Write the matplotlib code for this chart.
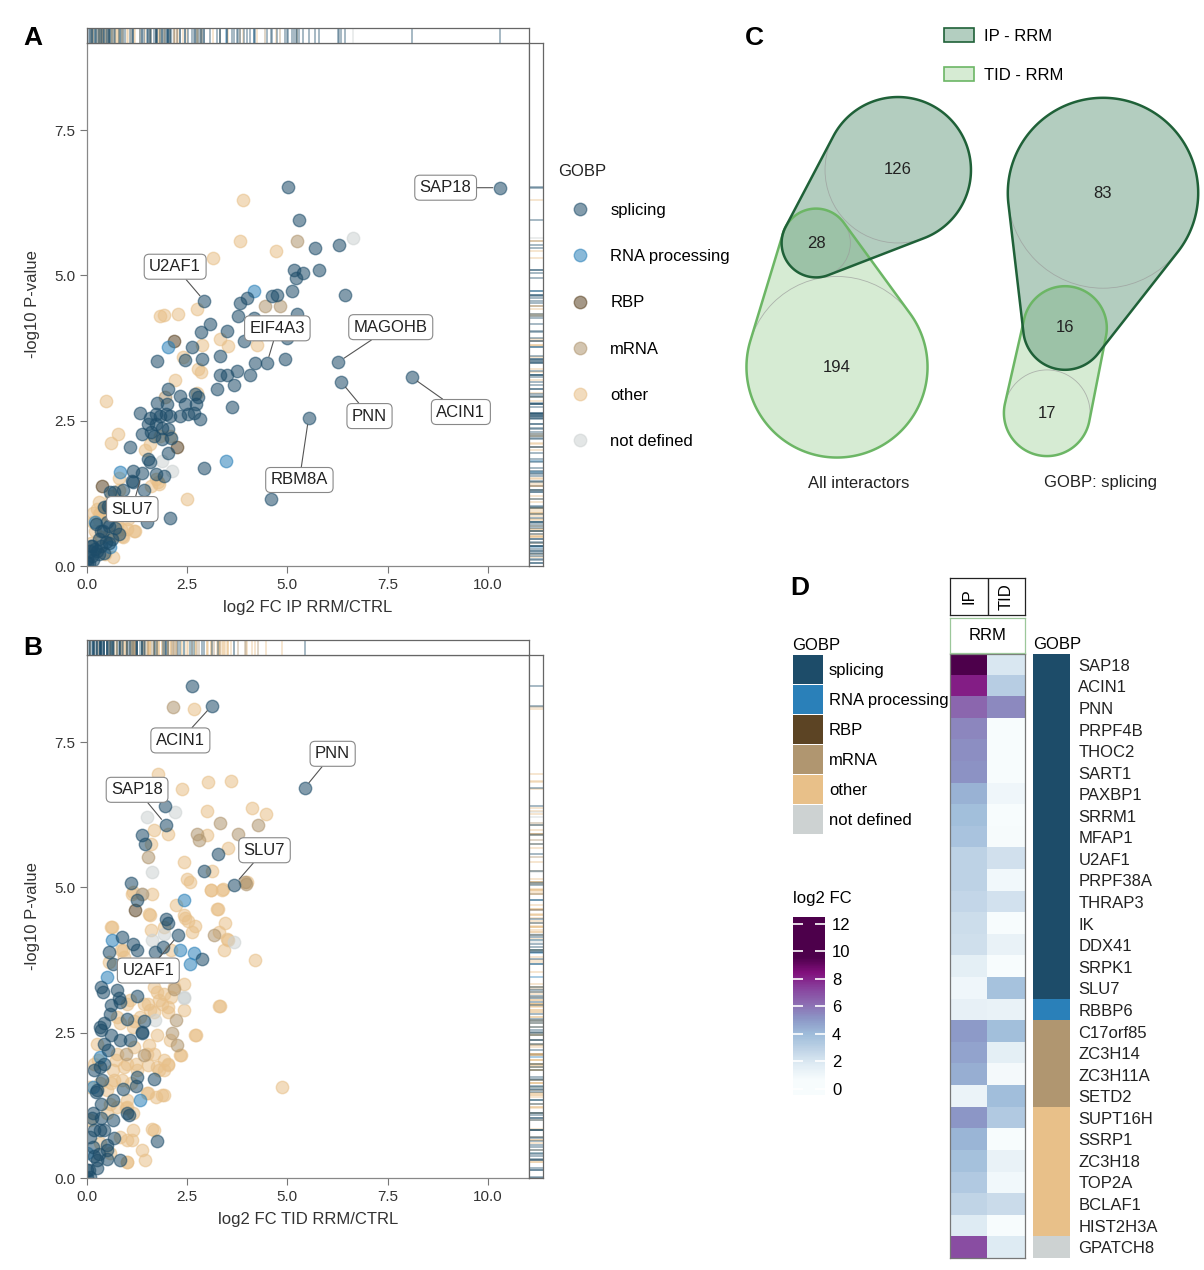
import matplotlib
matplotlib.use("Agg")
import matplotlib.pyplot as plt
import numpy as np
from matplotlib.colors import ListedColormap, Normalize
from matplotlib.lines import Line2D
from matplotlib.patches import Patch, Polygon, Circle
from matplotlib.cm import ScalarMappable

plt.rcParams['font.family'] = ['Liberation Sans', 'DejaVu Sans']

W, H = 1204, 1270

# GOBP categories and colours
categories = ['splicing', 'RNA processing', 'RBP', 'mRNA', 'other', 'not defined']
cat_colors = ['#1d4c69', '#2a80b9', '#5c4424', '#b09670', '#e8c089', '#cdd2d2']

# ---- panel A: log2 FC IP RRM/CTRL vs -log10 p ----
a_splicing = [
    (5.02, 6.53), (5.30, 5.96), (5.70, 5.47), (6.30, 5.52), (5.16, 5.10), (5.39, 5.05), (5.79, 5.09),
    (5.22, 4.96), (6.43, 4.66), (5.12, 4.73), (4.62, 4.64), (4.74, 4.67), (3.83, 4.52), (3.99, 4.62),
    (3.78, 4.30), (4.16, 4.27), (5.24, 4.33), (2.93, 4.56), (3.08, 4.16), (2.84, 4.02), (3.49, 4.04),
    (3.91, 3.87), (4.99, 3.93), (2.62, 3.77), (2.87, 3.56), (3.33, 3.61), (1.74, 3.53), (2.45, 3.54),
    (3.33, 3.28), (3.24, 3.04), (3.49, 3.28), (3.74, 3.36), (3.68, 3.12), (4.06, 3.28), (4.20, 3.50),
    (4.49, 3.49), (4.93, 3.56), (2.02, 3.04), (2.31, 2.93), (2.70, 2.96), (2.78, 2.90), (1.74, 2.81),
    (1.99, 2.78), (2.45, 2.78), (2.72, 2.78), (1.33, 2.64), (1.58, 2.55), (1.83, 2.58), (2.08, 2.58),
    (2.33, 2.58), (2.66, 2.64), (2.83, 2.53), (3.62, 2.74), (1.37, 2.27), (1.53, 2.44), (1.87, 2.38),
    (2.03, 2.35), (1.66, 2.24), (1.87, 2.19), (1.08, 2.04), (1.53, 1.84), (2.03, 1.94), (1.58, 1.79),
    (2.91, 1.68), (1.16, 1.64), (1.37, 1.60), (1.73, 1.58), (1.91, 1.55), (0.58, 1.27), (0.91, 1.30),
    (1.41, 1.30), (1.16, 1.44), (0.53, 1.04), (2.06, 0.82), (1.49, 0.75), (5.53, 2.55), (4.59, 1.15),
    (6.27, 3.51), (6.34, 3.17), (8.10, 3.25), (10.30, 6.51),
    (1.72, 2.61), (1.97, 2.61), (2.51, 2.61), (1.72, 2.44), (1.59, 2.30), (2.09, 2.21), (1.13, 1.47),
    (0.43, 1.01), (0.68, 1.27), (0.22, 0.72), (0.34, 0.61), (0.55, 0.69), (0.30, 0.46), (0.47, 0.41),
    (0.63, 0.46), (0.09, 0.35), (0.26, 0.26), (0.43, 0.23), (0.13, 0.18), (0.01, 0.06), (0.00, 0.12),
    (0.05, 0.05), (0.15, 0.10), (0.20, 0.30), (0.35, 0.35), (0.40, 0.60), (0.50, 0.75), (0.55, 0.40),
    (0.70, 0.65), (0.80, 0.55), (0.85, 0.90), (0.95, 1.00), (0.12, 0.35), (0.30, 0.20), (0.08, 0.25)]
a_rna = [(4.16, 4.73), (2.03, 3.77), (3.47, 1.81), (0.83, 1.61), (0.20, 0.75), (0.58, 0.32)]
a_rbp = [(2.16, 3.87), (2.24, 2.04), (0.37, 1.38)]
a_mrna = [(5.24, 5.59), (4.45, 4.47), (4.81, 4.48), (1.95, 2.90), (0.55, 1.00)]
a_other = [
    (3.89, 6.29), (3.83, 5.60), (4.72, 5.42), (3.14, 5.30), (2.74, 4.42), (1.83, 4.30), (1.91, 4.32),
    (2.26, 4.33), (0.47, 2.84), (0.77, 2.27), (0.59, 2.11), (1.58, 2.10), (2.49, 1.16), (2.87, 3.80),
    (2.77, 3.39), (2.85, 3.33), (4.24, 3.81), (3.33, 3.90), (3.53, 3.79), (2.74, 2.98), (1.83, 2.24),
    (2.08, 2.24), (1.78, 1.44), (1.03, 0.81), (0.33, 0.92), (0.74, 0.69), (0.16, 0.92), (1.33, 0.92),
    (0.10, 0.40), (0.20, 0.60), (0.30, 0.80), (0.40, 1.00), (0.50, 0.90), (0.60, 1.20), (0.30, 1.10),
    (0.70, 0.95), (0.80, 1.30), (0.45, 0.20), (0.65, 0.15), (0.90, 0.50), (1.20, 0.60), (0.15, 0.75),
    (0.55, 0.55), (1.10, 1.00), (0.35, 0.50), (2.40, 3.60), (2.20, 3.20), (1.45, 2.00),
    (0.80, 1.52), (1.59, 1.38), (1.72, 1.49), (1.80, 1.41), (0.26, 0.98), (0.30, 0.89), (0.72, 0.86),
    (0.84, 0.64), (1.01, 0.63), (1.18, 0.61), (0.63, 0.52), (0.88, 0.52)]
a_nd = [(6.64, 5.64), (1.87, 1.81), (2.12, 1.64)]

a_labels = ['SAP18', 'U2AF1', 'EIF4A3', 'MAGOHB', 'PNN', 'ACIN1', 'RBM8A', 'SLU7']
a_label_pts = [(10.30, 6.51), (2.93, 4.56), (4.49, 3.49), (6.27, 3.51), (6.34, 3.17), (8.10, 3.25),
               (5.53, 2.55), (1.37, 1.60)]
a_label_txt = [(8.95, 6.51), (2.20, 5.15), (4.75, 4.09), (7.58, 4.11), (7.05, 2.58), (9.33, 2.65),
               (5.30, 1.48), (1.13, 0.98)]

# ---- panel B: log2 FC TID RRM/CTRL vs -log10 p ----
b_splicing = [
    (2.62, 8.47), (3.12, 8.13), (1.95, 6.41), (1.97, 6.08), (1.37, 5.91), (1.45, 5.74), (3.28, 5.58),
    (2.92, 5.28), (3.68, 5.05), (1.10, 5.08), (1.26, 4.79), (1.98, 4.46), (2.01, 4.38), (2.28, 4.18),
    (1.16, 4.02), (1.24, 3.92), (0.87, 4.15), (1.70, 3.89), (2.87, 3.77), (0.66, 3.69), (0.41, 3.20),
    (0.74, 3.23), (1.24, 3.14), (0.83, 3.03), (0.58, 2.83), (0.33, 2.60), (1.41, 2.71), (1.37, 2.51),
    (0.83, 2.37), (1.08, 2.37), (0.53, 2.20), (0.33, 1.91), (1.24, 1.74), (0.91, 1.54), (1.66, 1.71),
    (0.24, 1.51), (0.66, 1.34), (0.99, 1.11), (0.16, 1.11), (0.66, 1.00), (0.33, 0.83), (0.08, 0.71),
    (0.16, 0.54), (0.49, 0.48), (1.74, 0.63), (0.83, 0.31), (0.24, 0.31), (0.00, 0.14), (0.08, 0.02),
    (0.00, 0.00), (5.43, 6.71),
    (1.90, 3.97), (0.55, 3.89), (0.34, 3.29), (0.80, 3.09), (0.59, 2.97), (1.01, 2.74), (0.43, 2.66),
    (0.34, 2.54), (0.59, 2.46), (1.38, 2.49), (0.43, 2.31), (0.43, 1.97), (0.18, 1.86), (0.38, 1.68),
    (1.22, 1.58), (0.22, 1.48), (0.34, 1.28), (0.13, 1.03), (0.34, 1.03), (1.05, 1.08), (0.18, 0.82),
    (0.43, 0.82), (0.68, 0.68), (0.51, 0.57), (0.51, 0.32), (0.30, 0.42), (0.18, 0.37), (0.05, 0.14),
    (0.26, 0.17)]
b_rna = [(2.41, 4.79), (0.62, 4.10), (0.49, 3.46), (2.66, 3.87), (2.58, 3.69), (1.33, 1.34), (0.33, 2.09),
         (0.00, 0.43), (0.16, 1.57), (2.33, 3.92)]
b_rbp = [(1.20, 4.62)]
b_mrna = [(2.14, 8.10), (3.33, 6.11), (2.74, 5.92), (2.80, 5.81), (3.78, 5.92), (4.27, 6.07), (3.95, 5.10),
          (1.52, 5.52), (1.37, 4.89), (3.16, 4.18), (2.12, 2.49), (2.24, 2.29), (2.23, 2.72), (3.97, 5.06),
          (2.18, 3.26), (0.97, 2.14), (1.43, 2.11)]
b_other = [
    (2.66, 8.07), (1.78, 6.95), (2.37, 6.70), (3.03, 6.81), (3.59, 6.84), (2.99, 6.32), (4.13, 6.37),
    (4.47, 6.26), (1.68, 5.98), (2.03, 5.92), (1.59, 5.75), (2.99, 5.91), (3.53, 5.68), (2.43, 5.44),
    (3.12, 5.29), (2.49, 5.15), (2.58, 5.09), (3.99, 5.10), (3.09, 4.96), (3.39, 4.98), (1.16, 4.92),
    (2.22, 4.69), (3.24, 4.63), (1.58, 4.53), (2.45, 4.48), (2.70, 4.33), (3.45, 4.39), (0.62, 4.32),
    (1.91, 4.32), (3.49, 4.12), (3.41, 3.92), (4.20, 3.75), (0.91, 3.92), (1.53, 3.55),
    (2.16, 3.29), (1.74, 3.20), (1.08, 3.06), (1.41, 3.00), (1.58, 2.89), (1.87, 3.00), (2.41, 2.89),
    (2.03, 2.86), (1.33, 2.77), (1.16, 2.60), (1.74, 2.46), (2.08, 2.37), (2.33, 2.11), (2.70, 2.46),
    (3.33, 2.96), (4.87, 1.57), (1.49, 2.14), (0.99, 1.97), (0.66, 1.86), (1.91, 1.86), (0.33, 1.63),
    (1.49, 1.46), (1.87, 1.43), (0.99, 1.34), (0.58, 1.28), (1.16, 1.11), (1.66, 0.83), (1.37, 0.48),
    (0.99, 0.28), (0.33, 0.60), (0.58, 0.43), (0.08, 1.00), (0.08, 1.57), (1.74, 1.91), (0.28, 2.03),
    (0.83, 2.66), (0.74, 2.14), (1.24, 1.86), (2.03, 1.97), (0.83, 0.71), (0.49, 1.11), (1.16, 0.83),
    (1.13, 4.89), (1.63, 4.88), (1.55, 4.55), (2.42, 4.52), (2.51, 4.43), (1.59, 4.26), (2.63, 4.23),
    (3.09, 4.95), (3.38, 4.95), (3.26, 4.63), (3.30, 4.23), (3.51, 4.09), (0.59, 4.32), (0.84, 3.92),
    (0.93, 3.80), (2.09, 3.92), (0.55, 3.72), (1.68, 3.29), (1.93, 3.17), (1.80, 3.06), (2.09, 3.12),
    (2.42, 3.34), (1.01, 3.00), (1.51, 3.00), (1.68, 2.86), (2.01, 2.94), (3.30, 2.96), (0.76, 2.77),
    (1.18, 2.71), (2.72, 2.46), (2.34, 2.11), (0.26, 2.31), (0.18, 1.97), (1.18, 2.26), (1.55, 2.29),
    (1.68, 2.14), (1.93, 2.03), (2.01, 1.94), (0.72, 2.03), (0.93, 1.91), (1.22, 1.97), (1.51, 1.94),
    (1.80, 1.86), (0.68, 1.68), (0.88, 1.68), (1.09, 1.63), (1.51, 1.46), (1.72, 1.40), (1.93, 1.43),
    (1.01, 1.23), (1.63, 0.85), (1.01, 0.65), (1.13, 0.65), (1.01, 0.28), (1.45, 0.31), (0.76, 1.23),
    (0.97, 1.20), (0.51, 1.51), (0.59, 1.63)]
b_nd = [(1.49, 6.21), (2.20, 6.30), (1.62, 5.26), (3.66, 4.06), (1.62, 4.09), (2.41, 3.09), (1.70, 2.72),
        (1.91, 4.20), (1.38, 4.89), (2.42, 3.12)]

b_labels = ['ACIN1', 'PNN', 'SAP18', 'SLU7', 'U2AF1']
b_label_pts = [(3.12, 8.13), (5.43, 6.71), (1.97, 6.08), (3.68, 5.05), (2.28, 4.18)]
b_label_txt = [(2.33, 7.53), (6.13, 7.30), (1.25, 6.68), (4.43, 5.64), (1.53, 3.57)]

# ---- panel C: overlap counts (IP only, shared, TID only) ----
all_counts = [126, 28, 194]
splicing_counts = [83, 16, 17]

# ---- panel D: log2 FC heatmap ----
genes = ['SAP18', 'ACIN1', 'PNN', 'PRPF4B', 'THOC2', 'SART1', 'PAXBP1', 'SRRM1', 'MFAP1', 'U2AF1',
         'PRPF38A', 'THRAP3', 'IK', 'DDX41', 'SRPK1', 'SLU7', 'RBBP6', 'C17orf85', 'ZC3H14', 'ZC3H11A',
         'SETD2', 'SUPT16H', 'SSRP1', 'ZC3H18', 'TOP2A', 'BCLAF1', 'HIST2H3A', 'GPATCH8']
fc_ip = [10.3, 8.1, 6.35, 5.5, 5.3, 5.2, 4.3, 3.8, 3.6, 2.93, 2.9, 2.7, 2.4, 2.3, 1.5, 1.0, 1.4,
         5.0, 4.7, 4.4, 1.2, 5.1, 4.2, 3.7, 3.3, 2.8, 1.8, 7.0]
fc_tid = [1.97, 3.12, 5.43, 0.3, 0.5, 0.6, 1.0, 0.3, 0.7, 2.28, 0.9, 2.2, 0.3, 1.3, 0.2, 3.68, 1.3,
          3.8, 1.5, 0.8, 3.9, 3.3, 0.5, 1.3, 0.9, 2.5, 0.4, 1.8]
gene_gobp = ['splicing'] * 16 + ['RNA processing'] + ['mRNA'] * 4 + ['other'] * 6 + ['not defined']

fig = plt.figure(figsize=(W / 100, H / 100), dpi=100)


def fax(x0, y0, x1, y1):
    # axes from pixel box (top-left origin)
    return fig.add_axes([x0 / W, 1 - y1 / H, (x1 - x0) / W, (y1 - y0) / H])


def style_box(ax, color='#888888'):
    for s in ax.spines.values():
        s.set_color(color)
        s.set_linewidth(0.9)


def volcano(y_top, series, labels, label_pts, label_txt, xlabel):
    ax = fax(87, y_top + 15, 529, y_top + 538)
    top = fax(87, y_top, 529, y_top + 15)
    right = fax(529, y_top + 15, 543, y_top + 538)
    order = [4, 5, 3, 2, 1, 0]
    for i in order:
        pts = np.array(series[i])
        c = cat_colors[i]
        ax.scatter(pts[:, 0], pts[:, 1], s=80, color=c, alpha=0.55, edgecolors=c, linewidths=1.0, zorder=2)
        top.vlines(pts[:, 0], 0, 1, color=c, alpha=0.5, lw=1.1)
        right.hlines(pts[:, 1], 0, 1, color=c, alpha=0.5, lw=1.1)
    for name, p, t in zip(labels, label_pts, label_txt):
        ax.annotate(name, xy=p, xytext=t, ha='center', va='center', fontsize=12, color='#222222', zorder=5,
                    bbox=dict(boxstyle='round,pad=0.3', fc='white', ec='#888888', lw=0.8),
                    arrowprops=dict(arrowstyle='-', color='#555555', lw=0.8, shrinkA=0, shrinkB=5))
    ax.set_xlim(0, 11.03)
    ax.set_ylim(0, 9)
    ax.set_xticks([0, 2.5, 5, 7.5, 10])
    ax.set_xticklabels(['0.0', '2.5', '5.0', '7.5', '10.0'])
    ax.set_yticks([0, 2.5, 5, 7.5])
    ax.set_yticklabels(['0.0', '2.5', '5.0', '7.5'])
    ax.tick_params(labelsize=11, colors='#333333', length=5, width=0.8)
    ax.tick_params(axis='both', color='#777777')
    ax.set_xlabel(xlabel, fontsize=12, color='#333333', labelpad=6)
    ax.set_ylabel('-log10 P-value', fontsize=12, color='#333333', labelpad=10)
    style_box(ax)
    top.set_xlim(0, 11.03)
    top.set_ylim(0, 1)
    right.set_ylim(0, 9)
    right.set_xlim(0, 1)
    for r in (top, right):
        r.set_xticks([])
        r.set_yticks([])
        style_box(r, '#666666')


volcano(28, [a_splicing, a_rna, a_rbp, a_mrna, a_other, a_nd], a_labels, a_label_pts, a_label_txt,
        'log2 FC IP RRM/CTRL')
volcano(640, [b_splicing, b_rna, b_rbp, b_mrna, b_other, b_nd], b_labels, b_label_pts, b_label_txt,
        'log2 FC TID RRM/CTRL')

fig.text(558 / W, 1 - 171 / H, 'GOBP', fontsize=12, ha='left', va='center', color='#222222')
handles = [Line2D([], [], marker='o', ls='', ms=9, mfc=c, mec=c, alpha=0.55, label=l)
           for c, l in zip(cat_colors, categories)]
fig.legend(handles=handles, frameon=False, fontsize=12, handlelength=2.9, handletextpad=0.36,
           labelspacing=1.87, loc='upper left', bbox_to_anchor=(556 / W, 1 - 203 / H),
           borderpad=0, borderaxespad=0)

# ---- panel C ----
axc = fax(730, 0, 1204, 500)
axc.set_xlim(730, 1204)
axc.set_ylim(500, 0)
axc.axis('off')


def hull(circles, n=240):
    t = np.linspace(0, 2 * np.pi, n, endpoint=False)
    pts = []
    for cx, cy, r in circles:
        pts += list(zip(cx + r * np.cos(t), cy + r * np.sin(t)))
    pts = sorted(set(pts))

    def cross(o, a, b):
        return (a[0] - o[0]) * (b[1] - o[1]) - (a[1] - o[1]) * (b[0] - o[0])
    lower, upper = [], []
    for p in pts:
        while len(lower) >= 2 and cross(lower[-2], lower[-1], p) <= 0:
            lower.pop()
        lower.append(p)
    for p in reversed(pts):
        while len(upper) >= 2 and cross(upper[-2], upper[-1], p) <= 0:
            upper.pop()
        upper.append(p)
    return np.array(lower[:-1] + upper[:-1])


ip_face, ip_edge = '#579273', '#1f6138'
tid_face, tid_edge = '#d6ebd3', '#6cb665'


def venn(counts, centers, k, caption, caption_x):
    circles = [(cx, cy, k * np.sqrt(n)) for (cx, cy), n in zip(centers, counts)]
    ip_h = hull([circles[0], circles[1]])
    tid_h = hull([circles[1], circles[2]])
    axc.add_patch(Polygon(tid_h, closed=True, fc=tid_face, ec='none'))
    axc.add_patch(Polygon(ip_h, closed=True, fc=ip_face, alpha=0.45, ec='none'))
    for cx, cy, r in circles:
        axc.add_patch(Circle((cx, cy), r, fill=False, ec='#9a9a9a', lw=0.6, alpha=0.7))
    axc.add_patch(Polygon(tid_h, closed=True, fill=False, ec=tid_edge, lw=1.8))
    axc.add_patch(Polygon(ip_h, closed=True, fill=False, ec=ip_edge, lw=1.8))
    for (cx, cy, r), n in zip(circles, counts):
        axc.text(cx, cy, str(n), ha='center', va='center', fontsize=12, color='#222222')
    axc.text(caption_x, 483, caption, ha='center', va='center', fontsize=12, color='#222222')


venn(all_counts, [(898, 170), (816, 243), (837, 367)], 6.5, 'All interactors', 859)
venn(splicing_counts, [(1103, 193), (1065, 328), (1047, 413)], 10.45, 'GOBP: splicing', 1101)

c_handles = [Patch(fc='#b3cec0', ec=ip_edge, lw=1.2, label='IP - RRM'),
             Patch(fc=tid_face, ec=tid_edge, lw=1.2, label='TID - RRM')]
fig.legend(handles=c_handles, frameon=False, fontsize=12, handlelength=1.8, handleheight=0.92,
           labelspacing=1.38, handletextpad=0.6, loc='upper left', bbox_to_anchor=(944 / W, 1 - 28 / H),
           borderpad=0, borderaxespad=0)

# ---- panel D ----
# BuPu stretched between a low floor and a saturation level
vmin, vmax, floor, sat = -0.45, 12.5, 0.6, 9.6
base = plt.get_cmap('BuPu')
frac = (np.linspace(vmin, vmax, 256) - floor) / (sat - floor)
fc_cmap = ListedColormap(base(np.clip(frac, 0, 1)))
norm = Normalize(vmin=vmin, vmax=vmax)

axh = fax(950, 654, 1025, 1258)
vals = np.column_stack([fc_ip, fc_tid])
axh.imshow(vals, aspect='auto', cmap=fc_cmap, norm=norm, interpolation='nearest')
axh.set_xticks([])
axh.set_yticks([])
style_box(axh, '#777777')

axhead = fax(950, 578, 1025, 615)
axhead.set_xlim(0, 2)
axhead.set_ylim(0, 1)
axhead.axvline(1, color='#222222', lw=1)
axhead.text(0.5, 0.5, 'IP', rotation=90, ha='center', va='center', fontsize=12)
axhead.text(1.5, 0.5, 'TID', rotation=90, ha='center', va='center', fontsize=12)
axhead.set_xticks([])
axhead.set_yticks([])
style_box(axhead, '#222222')

axrrm = fax(950, 618, 1025, 653)
axrrm.text(0.5, 0.5, 'RRM', ha='center', va='center', fontsize=12, transform=axrrm.transAxes)
axrrm.set_xticks([])
axrrm.set_yticks([])
style_box(axrrm, '#9cc79a')

axbar = fax(1033, 654, 1070, 1258)
cat_idx = np.array([[categories.index(g)] for g in gene_gobp])
axbar.imshow(cat_idx, aspect='auto', cmap=ListedColormap(cat_colors), vmin=-0.5, vmax=5.5,
             interpolation='nearest')
axbar.set_xticks([])
axbar.yaxis.tick_right()
axbar.set_yticks(range(len(genes)))
axbar.set_yticklabels(genes, fontsize=12)
axbar.tick_params(axis='y', length=0, pad=6, colors='#222222')
for s in axbar.spines.values():
    s.set_visible(False)
axbar.text(0, 1.004, 'GOBP', transform=axbar.transAxes, ha='left', va='bottom', fontsize=12)

cax = fax(793, 917, 825, 1095)
cb = fig.colorbar(ScalarMappable(norm=norm, cmap=fc_cmap), cax=cax, ticks=[0, 2, 4, 6, 8, 10, 12])
cb.outline.set_visible(False)
cax.tick_params(direction='in', color='white', length=7, width=1.2, left=True, right=True,
                labelleft=False, labelright=True, labelsize=12, pad=5)
cax.text(0, 1.06, 'log2 FC', transform=cax.transAxes, ha='left', va='bottom', fontsize=12)

fig.text(792 / W, 1 - 645 / H, 'GOBP', fontsize=12, ha='left', va='center')
d_handles = [Patch(fc=c, ec='none', label=l) for c, l in zip(cat_colors, categories)]
fig.legend(handles=d_handles, frameon=False, fontsize=12, handlelength=1.8, handleheight=2.3,
           labelspacing=0.06, handletextpad=0.36, loc='upper left', bbox_to_anchor=(793 / W, 1 - 655 / H),
           borderpad=0, borderaxespad=0)

# panel letters
for letter, (px, py) in zip('ABCD', [(33, 38), (33, 648), (754, 38), (800, 588)]):
    fig.text(px / W, 1 - py / H, letter, fontsize=19, fontweight='bold', ha='center', va='center')

fig.savefig('out.png', dpi=100)
